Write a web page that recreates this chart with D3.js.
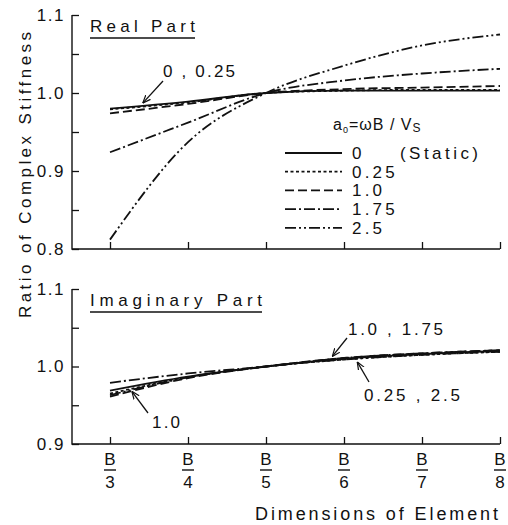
<!DOCTYPE html>
<html>
<head>
<meta charset="utf-8">
<script src="https://cdn.jsdelivr.net/npm/d3@7"></script>
<style>
  body { margin: 0; background: #fff; }
  text { font-family: "Liberation Sans", Arial, sans-serif; fill: #111; }
</style>
</head>
<body>
<script>
// element size B/n, n = 3..8
var denoms = [3, 4, 5, 6, 7, 8];
var a0Labels = ["0", "0.25", "1.0", "1.75", "2.5"];
var dashes = [null, "3,2.5", "9,4", "11,3,2,3", "11,3,2,3,2,3"];

// real part (ratio to B/5 result)
var real0 = [0.980, 0.989, 1.0, 1.003, 1.003, 1.003];
var real025 = [0.979, 0.988, 1.0, 1.003, 1.004, 1.004];
var real10 = [0.974, 0.986, 1.0, 1.005, 1.007, 1.009];
var real175 = [0.924, 0.962, 1.0, 1.016, 1.025, 1.031];
var real25 = [0.812, 0.937, 1.0, 1.035, 1.061, 1.075];

// imaginary part
var imag0 = [0.969, 0.987, 1.0, 1.010, 1.016, 1.020];
var imag025 = [0.965, 0.986, 1.0, 1.009, 1.015, 1.019];
var imag10 = [0.961, 0.985, 1.0, 1.011, 1.017, 1.021];
var imag175 = [0.979, 0.991, 1.0, 1.011, 1.017, 1.021];
var imag25 = [0.963, 0.986, 1.0, 1.009, 1.015, 1.019];

var realTicks = [0.8, 0.85, 0.9, 0.95, 1.0, 1.05, 1.1];
var imagTicks = [0.9, 0.95, 1.0, 1.05, 1.1];

var svg = d3.select("body").append("svg")
  .attr("width", 508)
  .attr("height", 525);

svg.append("defs").append("marker")
  .attr("id", "arrow")
  .attr("viewBox", "0 0 10 10")
  .attr("refX", 10).attr("refY", 5)
  .attr("markerWidth", 8).attr("markerHeight", 8)
  .attr("markerUnits", "userSpaceOnUse")
  .attr("orient", "auto")
  .append("path")
  .attr("d", "M0,1 L10,5 L0,9")
  .attr("fill", "none")
  .attr("stroke", "#111")
  .attr("stroke-width", 1.5);

var axisX0 = 72;
var x = d3.scaleLinear().domain([3, 8]).range([110, 500]);

function fmtTick(v) {
  return Math.abs(v * 10 - Math.round(v * 10)) < 1e-6 ? v.toFixed(1) : "";
}

function drawPanel(y, ticks, seriesList, title, titleLen) {
  var g = svg.append("g");
  var y0 = y.range()[0], y1 = y.range()[1];

  // axis frame (left + bottom)
  g.append("path")
    .attr("d", "M" + axisX0 + "," + y1 + "V" + y0 + "H" + x.range()[1])
    .attr("fill", "none")
    .attr("stroke", "#111")
    .attr("stroke-width", 1.4);

  var yAxis = d3.axisLeft(y).tickValues(ticks).tickSize(-7).tickPadding(7).tickFormat(fmtTick);
  var ya = g.append("g").attr("transform", "translate(" + axisX0 + ",0)").call(yAxis);
  ya.select(".domain").remove();
  ya.selectAll("line").attr("stroke", "#111").attr("stroke-width", 1.3);
  ya.selectAll("text")
    .attr("font-size", 17)
    .attr("letter-spacing", 1.5)
    .attr("font-family", "Liberation Sans, Arial, sans-serif")
    .attr("fill", "#111");

  var xAxis = d3.axisBottom(x).tickValues(denoms).tickSize(-7).tickFormat("");
  var xa = g.append("g").attr("transform", "translate(0," + y0 + ")").call(xAxis);
  xa.select(".domain").remove();
  xa.selectAll("line").attr("stroke", "#111").attr("stroke-width", 1.3);

  var line = d3.line()
    .x(function(d, i) { return x(denoms[i]); })
    .y(function(d) { return y(d); })
    .curve(d3.curveMonotoneX);

  seriesList.forEach(function(s, i) {
    g.append("path")
      .attr("d", line(s))
      .attr("fill", "none")
      .attr("stroke", "#111")
      .attr("stroke-width", 1.8)
      .attr("stroke-dasharray", dashes[i]);
  });

  // panel title, underlined
  g.append("text")
    .attr("x", 90).attr("y", y1 + 17)
    .attr("font-size", 17)
    .attr("textLength", titleLen)
    .attr("lengthAdjust", "spacing")
    .text(title);
  g.append("line")
    .attr("x1", 90).attr("x2", 90 + titleLen)
    .attr("y1", y1 + 23).attr("y2", y1 + 23)
    .attr("stroke", "#111").attr("stroke-width", 1.3);
  return g;
}

var yTop = d3.scaleLinear().domain([0.8, 1.1]).range([249, 15]);
var yBot = d3.scaleLinear().domain([0.9, 1.1]).range([444, 289]);

drawPanel(yTop, realTicks, [real0, real025, real10, real175, real25], "Real Part", 105);
drawPanel(yBot, imagTicks, [imag0, imag025, imag10, imag175, imag25], "Imaginary Part", 172);

// annotations with arrows
function note(y, label, tx, ty, tw, fromX, fromY, tipD, tipV) {
  svg.append("text")
    .attr("x", tx).attr("y", ty)
    .attr("font-size", 17)
    .attr("textLength", tw)
    .attr("lengthAdjust", "spacing")
    .attr("xml:space", "preserve")
    .text(label);
  svg.append("line")
    .attr("x1", fromX).attr("y1", fromY)
    .attr("x2", x(tipD)).attr("y2", y(tipV))
    .attr("stroke", "#111").attr("stroke-width", 1.3)
    .attr("marker-end", "url(#arrow)");
}
note(yTop, "0 , 0.25", 163, 77, 72, 163, 81, 3.42, 0.987);
note(yBot, "1.0 , 1.75", 348, 335, 95, 347, 338, 5.85, 1.013);
note(yBot, "0.25 , 2.5", 364, 401, 96, 369, 382, 6.17, 1.006);
note(yBot, "1.0", 152, 428, 28, 148, 413, 3.28, 0.968);

// legend
var leg = svg.append("g");
var lt = leg.append("text").attr("x", 333).attr("y", 130).attr("font-size", 16).attr("letter-spacing", 1);
lt.append("tspan").text("a");
lt.append("tspan").attr("font-size", 9).attr("dy", 3).text("0");
lt.append("tspan").attr("dy", -3).text("=\u03c9B / V");
lt.append("tspan").attr("font-size", 12).attr("dy", 2).text("S");

a0Labels.forEach(function(lab, i) {
  var ry = 153 + i * 18.7;
  leg.append("line")
    .attr("x1", 285).attr("x2", 342)
    .attr("y1", ry).attr("y2", ry)
    .attr("stroke", "#111").attr("stroke-width", 1.8)
    .attr("stroke-dasharray", dashes[i]);
  leg.append("text")
    .attr("x", 352).attr("y", ry + 6)
    .attr("font-size", 17).attr("letter-spacing", 3.2)
    .text(lab);
});
leg.append("text")
  .attr("x", 400).attr("y", 159)
  .attr("font-size", 17)
  .attr("textLength", 78)
  .attr("lengthAdjust", "spacing")
  .text("(Static)");

// x tick labels as fractions B/n
var fr = svg.append("g").selectAll("g").data(denoms).enter().append("g")
  .attr("transform", function(d) { return "translate(" + x(d) + ",0)"; });
fr.append("text").attr("y", 465).attr("text-anchor", "middle").attr("font-size", 17).text("B");
fr.append("line").attr("x1", -6).attr("x2", 6).attr("y1", 470).attr("y2", 470)
  .attr("stroke", "#111").attr("stroke-width", 1.4);
fr.append("text").attr("y", 488).attr("text-anchor", "middle").attr("font-size", 17)
  .text(function(d) { return d; });

// axis titles
svg.append("text")
  .attr("x", 255).attr("y", 520)
  .attr("font-size", 18)
  .attr("textLength", 243)
  .attr("lengthAdjust", "spacing")
  .text("Dimensions of Element");

svg.append("text")
  .attr("transform", "translate(31,175) rotate(-90)")
  .attr("text-anchor", "middle")
  .attr("font-size", 17)
  .attr("textLength", 286)
  .attr("lengthAdjust", "spacing")
  .text("Ratio of Complex Stiffness");
</script>
</body>
</html>
